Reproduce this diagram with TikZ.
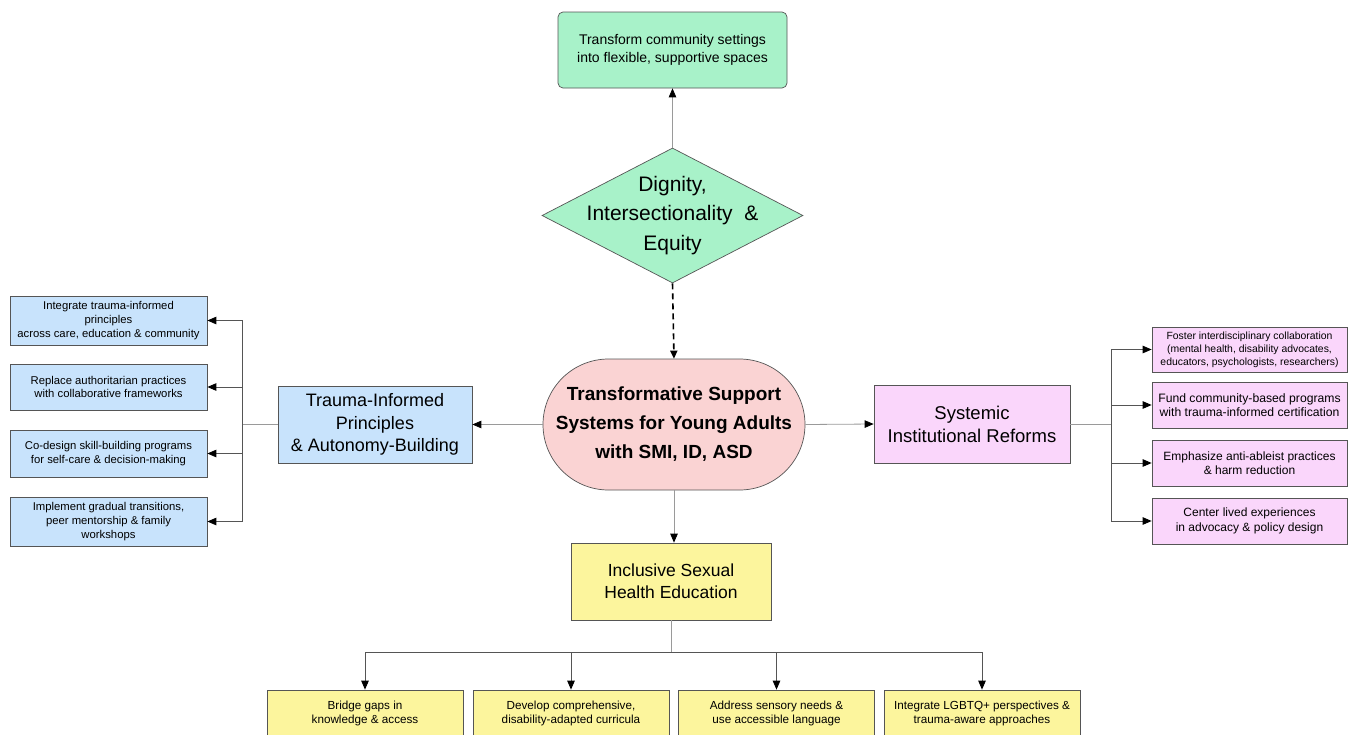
\documentclass[tikz,border=0pt]{standalone}
\usepackage{fontspec}
\setmainfont{Liberation Sans}
\usetikzlibrary{arrows.meta,shapes.geometric,shapes.misc}
\definecolor{cgreen}{HTML}{A8F2C9}
\definecolor{cpink}{HTML}{FAD3D3}
\definecolor{cblue}{HTML}{C8E3FC}
\definecolor{cmag}{HTML}{FAD6FB}
\definecolor{cyel}{HTML}{FCF59D}
\definecolor{cedge}{HTML}{555555}
\definecolor{clight}{HTML}{9A9A9A}
\tikzset{
  box/.style={draw=cedge, line width=0.7pt, inner sep=2pt, align=center, text=black},
  small/.style={box, minimum width=197pt, font=\fontsize{11.3}{13.8}\selectfont},
  bigbox/.style={box, font=\fontsize{18}{22.5}\selectfont},
  mainline/.style={draw=clight, line width=0.8pt},
  mainarr/.style={mainline, -{Triangle[length=9pt,width=7.5pt,color=black]}},
  childline/.style={draw=cedge, line width=0.9pt},
  childarr/.style={childline, -{Triangle[length=9pt,width=7.5pt,color=black]}},
}
\begin{document}
\begin{tikzpicture}[x=1pt,y=-1pt]
\clip (0,0) rectangle (1352,734);
\fill[white] (0,0) rectangle (1352,734);

% top green box
\node[box, fill=cgreen, rounded corners=5pt, minimum width=229pt, minimum height=76pt,
  font=\fontsize{14}{18}\selectfont] (top) at (672.5,50) {Transform community settings\\into flexible, supportive spaces};

% diamond
\node[diamond, draw=cedge, line width=0.7pt, fill=cgreen, inner sep=0pt, minimum width=261pt, minimum height=135pt] (dia) at (672.5,215.5) {};
\node[align=center, font=\fontsize{21}{29.5}\selectfont] (diatext) at (dia.center) {Dignity,\\Intersectionality~~\&\\Equity};

% center stadium
\node[rounded rectangle, draw=cedge, line width=0.7pt, fill=cpink, minimum width=262pt, minimum height=131pt, inner sep=0pt, align=center,
  font=\fontsize{19}{29}\selectfont\bfseries] (center) at (674,424.5) {Transformative Support\\Systems for Young Adults\\with SMI, ID, ASD};

% main branches
\node[bigbox, fill=cblue, minimum width=194pt, minimum height=77pt] (trauma) at (375,424.5) {Trauma-Informed\\Principles\\\& Autonomy-Building};
\node[bigbox, fill=cmag, minimum width=196pt, minimum height=78pt, font=\fontsize{18.5}{23}\selectfont] (sys) at (972,424) {Systemic\\Institutional Reforms};
\node[bigbox, fill=cyel, minimum width=200pt, minimum height=77pt, font=\fontsize{17.5}{22}\selectfont] (yel) at (671,581.5) {Inclusive Sexual\\Health Education};

% left children
\node[small, fill=cblue, minimum height=49pt] (l1) at (108.5,320.5) {Integrate trauma-informed\\principles\\across care, education \& community};
\node[small, fill=cblue, minimum height=46pt] (l2) at (108.5,387) {Replace authoritarian practices\\with collaborative frameworks};
\node[small, fill=cblue, minimum height=47pt] (l3) at (108.5,453.5) {Co-design skill-building programs\\for self-care \& decision-making};
\node[small, fill=cblue, minimum height=49pt] (l4) at (108.5,521.5) {Implement gradual transitions,\\peer mentorship \& family\\workshops};

% right children
\node[small, fill=cmag, minimum width=195pt, minimum height=45pt, font=\fontsize{10.4}{13}\selectfont] (r1) at (1249.5,349.5) {Foster interdisciplinary collaboration\\(mental health, disability advocates,\\educators, psychologists, researchers)};
\node[small, fill=cmag, minimum width=195pt, minimum height=46pt, font=\fontsize{12.2}{14.5}\selectfont] (r2) at (1249.5,405) {Fund community-based programs\\with trauma-informed certification};
\node[small, fill=cmag, minimum width=195pt, minimum height=46pt, font=\fontsize{12}{14.5}\selectfont] (r3) at (1249.5,463) {Emphasize anti-ableist practices\\\& harm reduction};
\node[small, fill=cmag, minimum width=195pt, minimum height=46pt, font=\fontsize{12}{14.5}\selectfont] (r4) at (1249.5,521) {Center lived experiences\\in advocacy \& policy design};

% bottom children
\node[small, fill=cyel, minimum width=196pt, minimum height=46pt, font=\fontsize{11.7}{14}\selectfont] (b1) at (365,713) {Bridge gaps in\\knowledge \& access};
\node[small, fill=cyel, minimum width=196pt, minimum height=46pt, font=\fontsize{11.7}{14}\selectfont] (b2) at (571,713) {Develop comprehensive,\\disability-adapted curricula};
\node[small, fill=cyel, minimum width=196pt, minimum height=46pt, font=\fontsize{11.7}{14}\selectfont] (b3) at (776.5,713) {Address sensory needs \&\\use accessible language};
\node[small, fill=cyel, minimum width=196pt, minimum height=46pt, font=\fontsize{11.7}{14}\selectfont] (b4) at (982,713) {Integrate LGBTQ+ perspectives \&\\trauma-aware approaches};

% main connectors
\draw[mainarr] (dia.north) -- (top.south);
\draw[line width=1.6pt, dash pattern=on 6pt off 4pt, -{Triangle[length=8pt,width=7pt]}] (dia.south) -- (center.north);
\draw[mainarr] (center.west) -- (trauma.east);
\draw[mainarr] (center.east) -- (sys.west);
\draw[mainarr] (center.south) -- (center.south |- yel.north);

% left junction
\coordinate (lj) at (242,424.5);
\draw[mainline] (trauma.west) -- (lj);
\draw[childarr] (lj) |- (l1.east);
\draw[childarr] (lj) |- (l2.east);
\draw[childarr] (lj) |- (l3.east);
\draw[childarr] (lj) |- (l4.east);

% right junction
\coordinate (rj) at (1111,424);
\draw[mainline] (sys.east) -- (rj);
\draw[childarr] (rj) |- (r1.west);
\draw[childarr] (rj) |- (r2.west);
\draw[childarr] (rj) |- (r3.west);
\draw[childarr] (rj) |- (r4.west);

% bottom junction
\coordinate (bj) at (671,652);
\draw[mainline] (yel.south) -- (bj);
\draw[childarr] (bj) -| (b1.north);
\draw[childarr] (bj) -| (b2.north);
\draw[childarr] (bj) -| (b3.north);
\draw[childarr] (bj) -| (b4.north);
\end{tikzpicture}
\end{document}
